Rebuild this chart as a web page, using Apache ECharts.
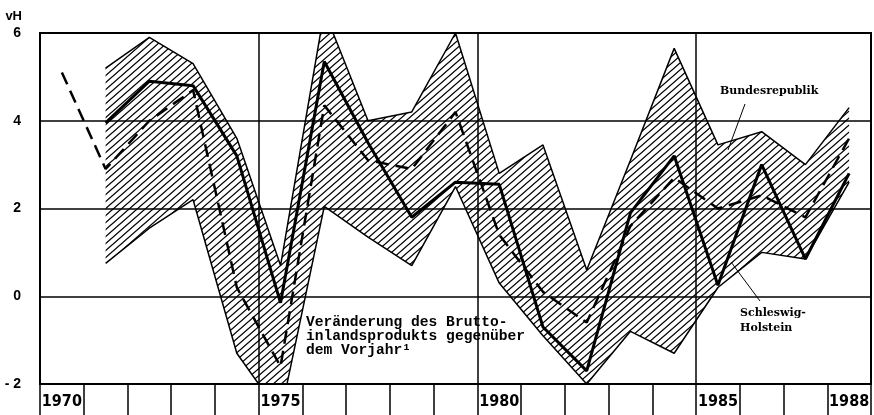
<!DOCTYPE html>
<html>
<head>
<meta charset="utf-8">
<script src="https://cdn.jsdelivr.net/npm/echarts@6/dist/echarts.min.js"></script>
<style>
  html, body { margin: 0; padding: 0; background: #fff; }
  #main { width: 874px; height: 415px; }
</style>
</head>
<body>
<div id="main"></div>
<script>
// Jahre (Kategorien) und Werte in vH
const years = ['1970', '1971', '1972', '1973', '1974', '1975', '1976', '1977', '1978', '1979',
  '1980', '1981', '1982', '1983', '1984', '1985', '1986', '1987', '1988'];
const yearLabels = ['1970', '1975', '1980', '1985', '1988'];
const bundesrepublik = [5.1, 2.9, 4.0, 4.7, 0.2, -1.6, 4.35, 3.1, 2.9, 4.2, 1.4, 0.1, -0.6, 1.6, 2.7, 2.0, 2.3, 1.8, 3.6];
const schleswigHolstein = [null, 3.95, 4.9, 4.8, 3.2, -0.15, 5.35, 3.5, 1.8, 2.6, 2.55, -0.7, -1.7, 1.9, 3.2, 0.25, 3.0, 0.85, 2.8];
const bandHigh = [null, 5.2, 5.9, 5.3, 3.6, 0.7, 6.5, 4.0, 4.2, 6.0, 2.8, 3.45, 0.6, 3.1, 5.65, 3.45, 3.75, 3.0, 4.3];
const bandLow = [null, 0.75, 1.55, 2.2, -1.3, -2.7, 2.05, 1.35, 0.7, 2.5, 0.3, -0.9, -2.0, -0.8, -1.3, 0.2, 1.0, 0.85, 2.6];
const yTicks = [-2, 0, 2, 4, 6];

// Schraffur als Muster
function hatch() {
  const w = 8, h = 7;
  const c = document.createElement('canvas');
  c.width = w; c.height = h;
  const g = c.getContext('2d');
  g.strokeStyle = '#000';
  g.lineWidth = 1.3;
  g.beginPath();
  [-w, 0, w].forEach(function (dx) {
    g.moveTo(dx - w, 2 * h);
    g.lineTo(dx + 2 * w, -h);
  });
  g.stroke();
  return c;
}

const bandDiff = bandHigh.map(function (v, i) {
  return v == null ? '-' : +(v - bandLow[i]).toFixed(2);
});

const myChart = echarts.init(document.getElementById('main'));

myChart.setOption({
  animation: false,
  grid: {
    left: 40, right: 3, top: 33, bottom: 31,
    show: true, borderColor: '#000', borderWidth: 2, backgroundColor: 'transparent'
  },
  xAxis: {
    type: 'category',
    data: years,
    boundaryGap: true,
    axisLine: { show: true, onZero: false, lineStyle: { color: '#000', width: 2 } },
    axisTick: {
      show: true, interval: 0, length: 32, inside: false,
      lineStyle: { color: '#000', width: 1.5 }
    },
    axisLabel: {
      interval: 0,
      margin: 10,
      color: '#000',
      fontSize: 16,
      fontWeight: 'bold',
      fontFamily: '"DejaVu Sans Condensed", "Liberation Sans Narrow", sans-serif',
      formatter: function (v) { return yearLabels.indexOf(v) >= 0 ? v : ''; }
    },
    splitLine: {
      show: true,
      interval: function (i) { return i > 0 && i % 5 === 0; },
      lineStyle: { color: '#000', width: 1.5 }
    }
  },
  yAxis: {
    type: 'value',
    min: yTicks[0], max: yTicks[yTicks.length - 1], interval: 2,
    name: 'vH',
    nameLocation: 'end',
    nameGap: 10,
    nameTextStyle: { color: '#000', fontSize: 13, fontWeight: 'bold', align: 'right', padding: [0, 18, 0, 0] },
    axisLine: { show: true, lineStyle: { color: '#000', width: 2 } },
    axisTick: { show: false },
    axisLabel: {
      margin: 19, color: '#000', fontSize: 14, fontWeight: 'bold',
      fontFamily: 'Liberation Sans, Arial, sans-serif',
      formatter: function (v) { return v < 0 ? '- ' + Math.abs(v) : String(v); }
    },
    splitLine: { show: true, lineStyle: { color: '#000', width: 1.5 } }
  },
  series: [
    {
      name: 'bandLow',
      type: 'line',
      stack: 'band',
      stackStrategy: 'all',
      data: bandLow.map(function (v) { return v == null ? '-' : v; }),
      symbol: 'none',
      lineStyle: { color: '#000', width: 1.5 },
      z: 2
    },
    {
      name: 'band',
      type: 'line',
      stack: 'band',
      stackStrategy: 'all',
      data: bandDiff,
      symbol: 'none',
      lineStyle: { color: '#000', width: 1.5 },
      areaStyle: { color: { image: hatch(), repeat: 'repeat' }, opacity: 1 },
      z: 2
    },
    {
      name: 'Bundesrepublik',
      type: 'line',
      data: bundesrepublik,
      symbol: 'none',
      lineStyle: { color: '#000', width: 2.5, type: [13, 7] },
      z: 3
    },
    {
      name: 'Schleswig-Holstein',
      type: 'line',
      data: schleswigHolstein.map(function (v) { return v == null ? '-' : v; }),
      symbol: 'none',
      lineStyle: { color: '#000', width: 3 },
      z: 4
    }
  ],
  graphic: [
    {
      type: 'text', left: 306, top: 315,
      style: {
        text: 'Veränderung des Brutto-\ninlandsprodukts gegenüber\ndem Vorjahr¹',
        font: 'bold 14.6px "Liberation Mono", "DejaVu Sans Mono", monospace',
        lineHeight: 14, fill: '#000'
      }
    },
    {
      type: 'text', left: 720, top: 86,
      style: { text: 'Bundesrepublik', font: 'bold 11px "DejaVu Serif", serif', fill: '#000' }
    },
    {
      type: 'line',
      shape: { x1: 745, y1: 104, x2: 728, y2: 150 },
      style: { stroke: '#000', lineWidth: 1 }
    },
    {
      type: 'text', left: 740, top: 306,
      style: { text: 'Schleswig-\nHolstein', font: 'bold 11px "DejaVu Serif", serif', lineHeight: 15, fill: '#000' }
    },
    {
      type: 'line',
      shape: { x1: 760, y1: 301, x2: 731, y2: 262 },
      style: { stroke: '#000', lineWidth: 1 }
    }
  ]
});
</script>
</body>
</html>
